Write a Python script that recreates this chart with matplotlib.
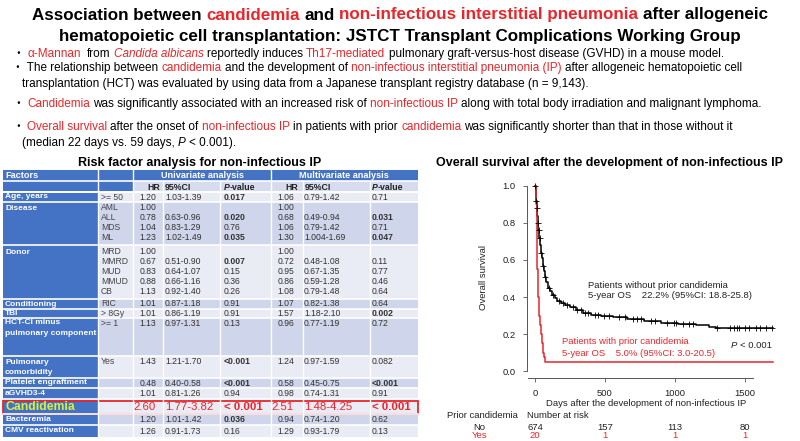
import matplotlib
matplotlib.use('Agg')
import matplotlib.pyplot as plt
import numpy as np
from matplotlib import font_manager as fm
from matplotlib.patches import Rectangle
from matplotlib.transforms import blended_transform_factory

RED = '#E8262B'
BLUE = '#4472C4'
LIGHT = '#E9EBF5'
MID = '#CFD5EA'
LIME = '#D7F03C'

_names = {f.name for f in fm.fontManager.ttflist}
NARROW = 'Liberation Sans Narrow' if 'Liberation Sans Narrow' in _names else 'Liberation Sans'
SANS = 'Liberation Sans'

# ---- table data ----
factor_names = ['Age, years', 'Disease', 'Donor', 'Conditioning', 'TBI',
                'HCT-CI minus\npulmonary component', 'Pulmonary\ncomorbidity',
                'Platelet engraftment', 'aGVHD3-4', 'Candidemia', 'Bacteremia',
                'CMV reactivation']
factor_levels = [['>= 50'], ['AML', 'ALL', 'MDS', 'ML'],
                 ['MRD', 'MMRD', 'MUD', 'MMUD', 'CB'], ['RIC'], ['> 8Gy'],
                 ['>= 1'], ['Yes'], [''], [''], [''], [''], ['']]
uni_hr = ['1.20', '1.00', '0.78', '1.04', '1.23', '1.00', '0.67', '0.83', '0.88', '1.13',
          '1.01', '1.01', '1.13', '1.43', '0.48', '1.01', '2.60', '1.20', '1.26']
uni_ci = ['1.03-1.39', '', '0.63-0.96', '0.83-1.29', '1.02-1.49', '', '0.51-0.90',
          '0.64-1.07', '0.66-1.16', '0.92-1.40', '0.87-1.18', '0.86-1.19', '0.97-1.31',
          '1.21-1.70', '0.40-0.58', '0.81-1.26', '1.77-3.82', '1.01-1.42', '0.91-1.73']
uni_p = ['0.017', '', '0.020', '0.76', '0.035', '', '0.007', '0.15', '0.36', '0.26',
         '0.91', '0.91', '0.13', '<0.001', '<0.001', '0.94', '< 0.001', '0.036', '0.16']
multi_hr = ['1.06', '1.00', '0.68', '1.06', '1.30', '1.00', '0.72', '0.95', '0.86', '1.08',
            '1.07', '1.57', '0.96', '1.24', '0.58', '0.98', '2.51', '0.94', '1.29']
multi_ci = ['0.79-1.42', '', '0.49-0.94', '0.79-1.42', '1.004-1.69', '', '0.48-1.08',
            '0.67-1.35', '0.59-1.28', '0.79-1.48', '0.82-1.38', '1.18-2.10', '0.77-1.19',
            '0.97-1.59', '0.45-0.75', '0.74-1.31', '1.48-4.25', '0.74-1.20', '0.93-1.79']
multi_p = ['0.71', '', '0.031', '0.71', '0.047', '', '0.11', '0.77', '0.46', '0.64',
           '0.64', '0.002', '0.72', '0.082', '<0.001', '0.91', '< 0.001', '0.62', '0.13']

# ---- survival data ----
no_days = [0, 4, 8, 12, 16, 20, 25, 30, 36, 42, 48, 55, 62, 70, 80, 92, 105, 120, 140, 160,
           185, 215, 250, 290, 340, 400, 470, 560, 660, 780, 900, 1020, 1150, 1240, 1290, 1700]
no_surv = [1.00, 0.96, 0.92, 0.88, 0.84, 0.80, 0.76, 0.72, 0.68, 0.64, 0.61, 0.57, 0.54, 0.51,
           0.48, 0.45, 0.43, 0.41, 0.395, 0.38, 0.37, 0.355, 0.345, 0.33, 0.315, 0.305, 0.295,
           0.29, 0.28, 0.27, 0.262, 0.255, 0.248, 0.24, 0.232, 0.232]
no_censor = [3, 9, 14, 22, 27, 33, 45, 58, 75, 98, 130, 170, 200, 230, 270, 300, 330, 360,
             380, 430, 450, 490, 530, 600, 640, 700, 730, 760, 830, 860, 940, 990, 1010,
             1060, 1100, 1130, 1300, 1390, 1420, 1440, 1460, 1500, 1530, 1580, 1610, 1650, 1690]
yes_days = [0, 4, 8, 11, 13, 14, 15, 16, 18, 20, 22, 26, 32, 38, 44, 50, 57, 64, 72, 1700]
yes_surv = [1.00, 0.95, 0.90, 0.85, 0.80, 0.70, 0.60, 0.55, 0.50, 0.45, 0.40, 0.35, 0.30,
            0.25, 0.20, 0.15, 0.10, 0.075, 0.05, 0.05]
risk_days = [0, 500, 1000, 1500]
risk_no = [674, 157, 113, 80]
risk_yes = [20, 1, 1, 1]

fig = plt.figure(figsize=(8, 4.41), dpi=100)
bg = fig.add_axes([0, 0, 1, 1])
bg.set_xlim(0, 800)
bg.set_ylim(441, 0)
bg.axis('off')
rend = fig.canvas.get_renderer()


def width_of(s, **kw):
    t = bg.text(0, 0, s, **kw)
    w = t.get_window_extent(rend).width
    t.remove()
    return w


def measure(parts, size, weight='normal', family=None):
    family = family or [NARROW, 'Noto Sans CJK JP']
    kw = dict(fontsize=size, fontweight=weight, family=family)
    sp = width_of('a a', **kw) - width_of('aa', **kw)
    items = []
    total = 0
    for p in parts:
        s, c = p[0], p[1]
        st = p[2] if len(p) > 2 else 'normal'
        lead = len(s) - len(s.lstrip(' '))
        trail = len(s) - len(s.rstrip(' '))
        w = width_of(s.strip(' '), fontstyle=st, **kw) if s.strip(' ') else 0
        items.append((s.strip(' '), c, st, lead * sp, w, trail * sp))
        total += lead * sp + w + trail * sp
    return items, total, kw


def rich(x, y, parts, size, weight='normal', family=None, ha='left'):
    items, total, kw = measure(parts, size, weight, family)
    if ha == 'center':
        x -= total / 2
    elif ha == 'right':
        x -= total
    for s, c, st, a, w, b in items:
        x += a
        if s:
            bg.text(x, y, s, color=c, fontstyle=st, va='center', **kw)
        x += w + b


# ---- header ----
title1 = [('Association between ', 'black'), ('candidemia', RED), (' and ', 'black'),
          ('non-infectious interstitial pneumonia', RED), (' after allogeneic', 'black')]
title2 = [('hematopoietic cell transplantation: JSTCT Transplant Complications Working Group',
           'black')]
tsize = 14 * 735 / measure(title1, 14, 'bold')[1]
rich(400, 15, title1, tsize, weight='bold', ha='center')
rich(400, 37, title2, tsize, weight='bold', ha='center')

bs = 8.5
rich(12, 54, [('・', 'black'), (' α-Mannan', RED), ('  from ', 'black'),
              ('Candida albicans', RED, 'italic'), (' reportedly induces ', 'black'),
              ('Th17-mediated', RED),
              (' pulmonary graft-versus-host disease (GVHD) in a mouse model.', 'black')], bs)
rich(12, 68, [('・ The relationship between ', 'black'), ('candidemia', RED),
              (' and the development of ', 'black'),
              ('non-infectious interstitial pneumonia (IP)', RED),
              (' after allogeneic hematopoietic cell', 'black')], bs)
rich(22, 84, [('transplantation (HCT) was evaluated by using data from a Japanese transplant '
               'registry database (n = 9,143).', 'black')], bs)
rich(12, 104, [('・ ', 'black'), ('Candidemia', RED),
               (' was significantly associated with an increased risk of ', 'black'),
               ('non-infectious IP', RED),
               (' along with total body irradiation and malignant lymphoma.', 'black')], bs)
rich(12, 127, [('・ ', 'black'), ('Overall survival', RED),
               (' after the onset of ', 'black'), ('non-infectious IP', RED),
               (' in patients with prior ', 'black'), ('candidemia', RED),
               (' was significantly shorter than that in those without it', 'black')], bs)
rich(22, 143, [('(median 22 days vs. 59 days, ', 'black'), ('P', 'black', 'italic'),
               (' < 0.001).', 'black')], bs)

# ---- table ----
bg.text(200, 163, 'Risk factor analysis for non-infectious IP', ha='center', va='center',
        fontsize=9, fontweight='bold', family=SANS)

TL, TR = 3, 418
col_sep = [98, 133, 163, 220, 271, 303, 370]
group_top = [192, 202, 245, 299, 309, 318, 356, 378, 388, 399, 414, 425]
group_bot = group_top[1:] + [437]
group_col = [LIGHT, MID, LIGHT, MID, LIGHT, MID, LIGHT, MID, LIGHT, LIGHT, MID, LIGHT]
line_y = [197, 208, 218, 228, 238, 252, 262, 272, 281, 291, 304, 313.5, 323, 362, 383,
          393.5, 406.5, 419.5, 431]

bg.add_patch(Rectangle((TL, 170), TR - TL, 11, fc=BLUE, ec='none'))
bg.add_patch(Rectangle((TL, 181), TR - TL, 11, fc='#D6DCEE', ec='none'))
bg.add_patch(Rectangle((TL, 181), 130, 11, fc=BLUE, ec='none'))
for top, bot, c in zip(group_top, group_bot, group_col):
    bg.add_patch(Rectangle((TL, top), TR - TL, bot - top, fc=c, ec='none'))
    bg.add_patch(Rectangle((TL, top), 95, bot - top, fc=BLUE, ec='none'))
for yy in [181, 192] + group_top:
    bg.plot([TL, TR], [yy, yy], color='white', lw=1.2)
for xx in col_sep:
    top = 170 if xx in (98, 133, 271) else 181
    bg.plot([xx, xx], [top, 437], color='white', lw=1.0)

hk = dict(fontsize=6.6, fontweight='bold', color='white', family=SANS, va='center')
bg.text(5, 176, 'Factors', **hk)
bg.text(202, 176, 'Univariate analysis', ha='center', **hk)
bg.text(344, 176, 'Multivariate analysis', ha='center', **hk)
sk = dict(fontsize=6.3, fontweight='bold', color='#222222', family=SANS, va='center')
for hr_x, ci_x, p_x in [(160, 165, 224), (298, 305, 372)]:
    bg.text(hr_x, 187, 'HR', ha='right', **sk)
    bg.text(ci_x, 187, '95%CI', **sk)
    rich(p_x, 187, [('P', '#222222', 'italic'), ('-value', '#222222')], 6.3,
         weight='bold', family=SANS)


def is_sig(p):
    p = p.replace(' ', '')
    if not p:
        return False
    if p.startswith('<'):
        return True
    return float(p) < 0.05


li = 0
for name, levels in zip(factor_names, factor_levels):
    y0 = line_y[li]
    if name == 'Candidemia':
        bg.text(6, y0, name, fontsize=8.8, fontweight='bold', color=LIME, family=SANS,
                va='center')
    else:
        for k, part in enumerate(name.split('\n')):
            bg.text(5, y0 + k * 10.5, part, fontsize=6.0, fontweight='bold', color='white',
                    family=SANS, va='center')
    for lev in levels:
        y = line_y[li]
        cand = name == 'Candidemia'
        col = RED if cand else '#333333'
        fs = 8.2 if cand else 6.2
        bg.text(101, y, lev, fontsize=6.2, color='#444444', family=SANS, va='center')
        bg.text(156, y, uni_hr[li], ha='right', fontsize=fs, color=col, family=SANS, va='center')
        bg.text(165, y, uni_ci[li], fontsize=fs, color=col, family=SANS, va='center')
        bg.text(224, y, uni_p[li], fontsize=fs, color=col, family=SANS, va='center',
                fontweight='bold' if is_sig(uni_p[li]) else 'normal')
        bg.text(294, y, multi_hr[li], ha='right', fontsize=fs, color=col, family=SANS,
                va='center')
        bg.text(304, y, multi_ci[li], fontsize=fs, color=col, family=SANS, va='center')
        bg.text(372, y, multi_p[li], fontsize=fs, color=col, family=SANS, va='center',
                fontweight='bold' if is_sig(multi_p[li]) else 'normal')
        li += 1

bg.add_patch(Rectangle((3, 400.5), 415, 13, fc='none', ec=RED, lw=1.3))

# ---- Kaplan-Meier ----
bg.text(609, 163, 'Overall survival after the development of non-infectious IP',
        ha='center', va='center', fontsize=9, fontweight='bold', family=SANS)

km = fig.add_axes([527 / 800, (441 - 378) / 441, 248 / 800, 198 / 441])
km.set_xlim(-57.1, 1714.3)
km.set_ylim(-0.0378, 1.0324)
km.patch.set_alpha(0)
km.step(no_days, no_surv, where='post', color='black', lw=1.1)
km.step(yes_days, yes_surv, where='post', color=RED, lw=1.1)
cy = np.array(no_surv)[np.searchsorted(no_days, no_censor, side='right') - 1]
km.plot(no_censor, cy, '+', color='black', ms=4, mew=0.6)
for s in ['top', 'right']:
    km.spines[s].set_visible(False)
km.spines['left'].set_bounds(0, 1)
km.spines['bottom'].set_bounds(-50, 1560)
for s in ['left', 'bottom']:
    km.spines[s].set_color('#555555')
    km.spines[s].set_linewidth(0.7)
km.set_xticks([0, 500, 1000, 1500])
km.set_yticks([0, 0.2, 0.4, 0.6, 0.8, 1.0])
km.set_yticklabels(['0.0', '0.2', '0.4', '0.6', '0.8', '1.0'])
km.tick_params(length=3, width=0.6, color='#555555', labelsize=6.8, labelcolor='#222222',
               pad=5)
for lab in km.get_xticklabels() + km.get_yticklabels():
    lab.set_family(SANS)

bg.text(483, 278, 'Overall survival', rotation=90, ha='center', va='center', fontsize=6.8,
        family=SANS, color='#222222')
bg.text(646, 403, 'Days after the development of non-infectious IP', ha='center',
        va='center', fontsize=6.8, family=SANS, color='#222222')

tk = dict(fontsize=6.8, family=SANS, va='center')
bg.text(588, 285, 'Patients without prior candidemia', color='#222222', **tk)
bg.text(588, 296, '5-year OS    22.2% (95%CI: 18.8-25.8)', color='#222222', **tk)
bg.text(562, 342, 'Patients with prior candidemia', color=RED, **tk)
bg.text(562, 353, '5-year OS    5.0% (95%CI: 3.0-20.5)', color=RED, **tk)
rich(772, 345, [('P', '#222222', 'italic'), (' < 0.001', '#222222')], 6.8, family=SANS,
     ha='right')

bg.text(447, 415, 'Prior candidemia', color='#222222', **tk)
bg.text(527, 415, 'Number at risk', color='#222222', **tk)
bg.text(479, 427, 'No', ha='center', color='#222222', **tk)
bg.text(480, 436, 'Yes', ha='center', color=RED, **tk)
tr = blended_transform_factory(km.transData, bg.transData)
for d, n, m in zip(risk_days, risk_no, risk_yes):
    bg.text(d, 427, str(n), transform=tr, ha='center', color='#222222', **tk)
    bg.text(d, 436, str(m), transform=tr, ha='center', color=RED, **tk)

fig.savefig('out.png', dpi=100)
